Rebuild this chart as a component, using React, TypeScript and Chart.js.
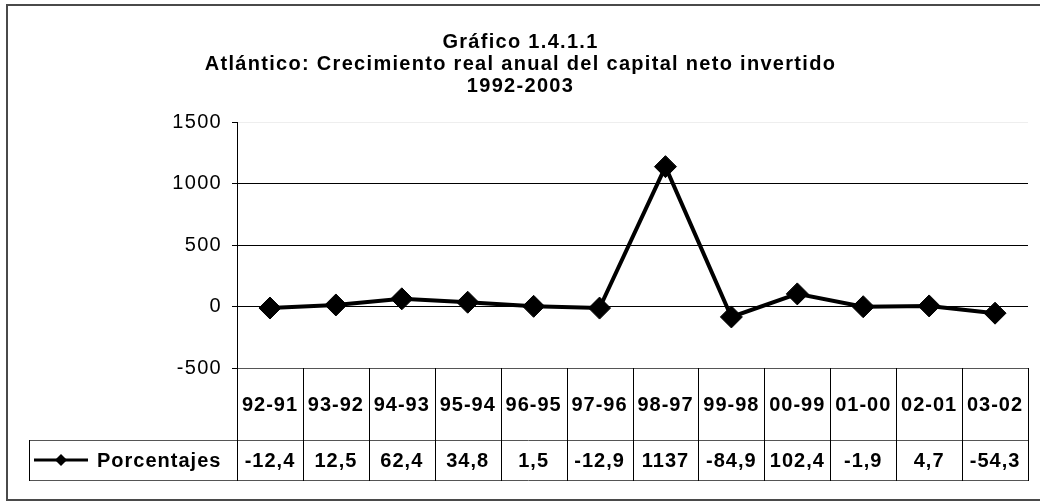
import React, { useEffect, useRef } from 'react';
import { Chart, registerables } from 'chart.js';

Chart.register(...registerables);

const titleLines = [
  'Gráfico 1.4.1.1',
  'Atlántico: Crecimiento real anual del capital neto invertido',
  '1992-2003',
];
const categories = ['92-91', '93-92', '94-93', '95-94', '96-95', '97-96', '98-97', '99-98', '00-99', '01-00', '02-01', '03-02'];
const seriesName = 'Porcentajes';
const values = [-12.4, 12.5, 62.4, 34.8, 1.5, -12.9, 1137, -84.9, 102.4, -1.9, 4.7, -54.3];
const yMin = -500;
const yMax = 1500;
const yStep = 500;

const FONT = "'Liberation Sans', Arial, sans-serif";
const fmt = (v: number) => String(v).replace('.', ',');

const spacingPlugin = {
  id: 'spacing',
  beforeInit(chart: any) {
    chart.ctx.letterSpacing = '1.3px';
  },
  beforeDraw(chart: any) {
    chart.ctx.letterSpacing = '1.3px';
  },
};

const tablePlugin = {
  id: 'dataTable',
  afterDraw(chart: any) {
    const { ctx, chartArea: ca, scales } = chart;
    const x = scales.x;
    const n = categories.length;
    const colW = (ca.right - ca.left) / n;
    const top = Math.round(ca.bottom);
    const mid = top + 72;
    const bot = mid + 40;
    const legL = 29;
    ctx.save();
    ctx.letterSpacing = '1px';

    // outer frame
    ctx.strokeStyle = '#4a4a4a';
    ctx.lineWidth = 2;
    ctx.strokeRect(7, 5, 1040, 495);

    // table lines
    ctx.lineWidth = 1;
    ctx.strokeStyle = '#555';
    ctx.beginPath();
    ctx.moveTo(ca.left, top + 0.5);
    ctx.lineTo(ca.right, top + 0.5);
    ctx.moveTo(legL, mid + 0.5);
    ctx.lineTo(ca.right, mid + 0.5);
    ctx.moveTo(legL, bot + 0.5);
    ctx.lineTo(ca.right, bot + 0.5);
    ctx.stroke();

    ctx.strokeStyle = '#000';
    ctx.beginPath();
    for (let i = 0; i <= n; i++) {
      const xx = Math.round(ca.left + i * colW) + 0.5;
      ctx.moveTo(xx, top);
      ctx.lineTo(xx, bot + 1);
    }
    ctx.moveTo(legL + 0.5, mid);
    ctx.lineTo(legL + 0.5, bot + 1);
    ctx.stroke();

    // texts
    ctx.fillStyle = '#000';
    ctx.font = `bold 20px ${FONT}`;
    ctx.textAlign = 'center';
    ctx.textBaseline = 'middle';
    categories.forEach((c, i) => {
      const cx = x.getPixelForValue(i);
      ctx.fillText(c, cx, (top + mid) / 2 + 1);
      ctx.fillText(fmt(values[i]), cx, (mid + bot) / 2 + 1);
    });

    // legend key
    const ly = (mid + bot) / 2;
    ctx.lineWidth = 3;
    ctx.beginPath();
    ctx.moveTo(34, ly);
    ctx.lineTo(88, ly);
    ctx.stroke();
    ctx.beginPath();
    ctx.moveTo(61, ly - 6);
    ctx.lineTo(67, ly);
    ctx.lineTo(61, ly + 6);
    ctx.lineTo(55, ly);
    ctx.closePath();
    ctx.fill();
    ctx.textAlign = 'left';
    ctx.fillText(seriesName, 97, ly + 1);
    ctx.restore();
  },
};

export default function App() {
  const ref = useRef<HTMLCanvasElement>(null);
  useEffect(() => {
    if (!ref.current) return;
    const chart = new Chart(ref.current, {
      type: 'line',
      data: {
        labels: categories,
        datasets: [
          {
            label: seriesName,
            data: values,
            borderColor: '#000',
            backgroundColor: '#000',
            borderWidth: 4,
            pointStyle: 'rectRot',
            pointRadius: 11,
            pointBackgroundColor: '#000',
            pointBorderColor: '#000',
            pointBorderWidth: 1,
            tension: 0,
          },
        ],
      },
      options: {
        responsive: false,
        animation: false,
        layout: { padding: { left: 8, right: 7, top: 0, bottom: 134 } },
        plugins: {
          legend: { display: false },
          tooltip: { enabled: false },
          title: {
            display: true,
            text: titleLines,
            color: '#000',
            font: { family: FONT, size: 20, weight: 'bold', lineHeight: 22 / 20 },
            padding: { top: 31, bottom: 25 },
          },
        },
        scales: {
          x: {
            type: 'category',
            display: false,
            offset: true,
          },
          y: {
            min: yMin,
            max: yMax,
            afterFit: (s: any) => {
              s.width = 229;
            },
            ticks: {
              stepSize: yStep,
              color: '#000',
              padding: 10,
              font: { family: FONT, size: 20 },
              callback: (v: any) => String(v),
            },
            grid: {
              color: (c: any) =>
                c.tick && c.tick.value === yMax ? '#eeeeee' : c.tick && c.tick.value === yMin ? '#555' : '#000',
              tickColor: '#000',
              tickLength: 5,
              lineWidth: 1,
            },
            border: { display: true, color: '#000', width: 1 },
          },
        },
      },
      plugins: [spacingPlugin, tablePlugin],
    });
    return () => chart.destroy();
  }, []);
  return (
    <div style={{ position: 'absolute', left: 0, top: 0, width: 1040, height: 502 }}>
      <canvas ref={ref} width={1040} height={502} style={{ display: 'block' }} />
    </div>
  );
}
